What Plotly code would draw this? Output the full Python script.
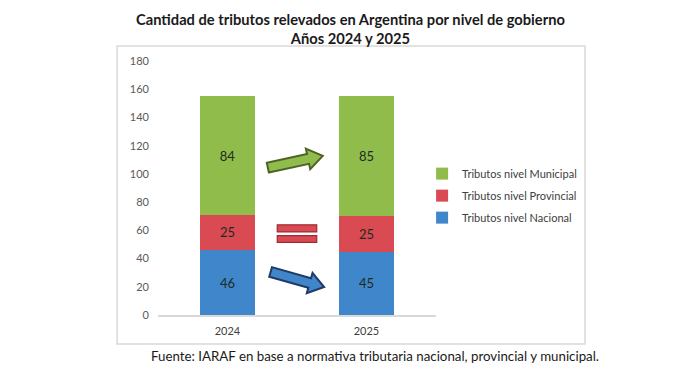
import math
import plotly.graph_objects as go

# ---- data ----
years = ["2024", "2025"]
nacional = [46, 45]
provincial = [25, 25]
municipal = [84, 85]
series_names = ["Tributos nivel Nacional", "Tributos nivel Provincial", "Tributos nivel Municipal"]
totals = [a + b + c for a, b, c in zip(nacional, provincial, municipal)]
title_lines = ["Cantidad de tributos relevados en Argentina por nivel de gobierno", "Años 2024 y 2025"]
source_text = "Fuente: IARAF en base a normativa tributaria nacional, provincial y municipal."

# ---- styles ----
FONT = "Lato"
C_GREEN, C_RED, C_BLUE = "#8FBC4B", "#D94A52", "#3F86CB"
W, H = 692, 379          # page body has an 8px margin
ML, MR, MT, MB = 150, 264, 53, 72
PX_X = (W - ML - MR) / 2.0      # pixels per category unit
PX_Y = (H - MT - MB) / 180.0    # pixels per value unit

fig = go.Figure()
for rank, (name, vals, col) in enumerate(zip(series_names, [nacional, provincial, municipal],
                                             [C_BLUE, C_RED, C_GREEN])):
    fig.add_trace(go.Bar(
        x=years, y=vals, name=name, marker=dict(color=col, line=dict(width=0)),
        width=0.4, text=vals, textposition="inside", insidetextanchor="middle",
        textfont=dict(family=FONT, size=13, color="#1E2A22"),
        legendgroup=name, legendrank=3 - rank,
    ))


def arrow(x0, y0, x1, y1, shaft=10, head=21, head_len=15):
    # geometry computed in pixel space, returned as an svg path in data coords
    p0 = (x0 * PX_X, -y0 * PX_Y)
    p1 = (x1 * PX_X, -y1 * PX_Y)
    dx, dy = p1[0] - p0[0], p1[1] - p0[1]
    L = math.hypot(dx, dy)
    ux, uy = dx / L, dy / L
    nx, ny = -uy, ux
    b = (p1[0] - ux * head_len, p1[1] - uy * head_len)
    pts = [
        (p0[0] + nx * shaft / 2, p0[1] + ny * shaft / 2),
        (b[0] + nx * shaft / 2, b[1] + ny * shaft / 2),
        (b[0] + nx * head / 2, b[1] + ny * head / 2),
        p1,
        (b[0] - nx * head / 2, b[1] - ny * head / 2),
        (b[0] - nx * shaft / 2, b[1] - ny * shaft / 2),
        (p0[0] - nx * shaft / 2, p0[1] - ny * shaft / 2),
    ]
    d = [(px / PX_X, -py / PX_Y) for px, py in pts]
    return "M " + " L ".join(f"{a:.4f},{c:.4f}" for a, c in d) + " Z"


shapes = [
    dict(type="rect", xref="paper", yref="paper", x0=-0.147, x1=1.536, y0=-0.114, y1=1.059,
         line=dict(color="#D9D9D9", width=1.5), fillcolor="rgba(0,0,0,0)", layer="below"),
    dict(type="path", xref="x", yref="y", path=arrow(0.29, 104.5, 0.685, 112.8),
         fillcolor=C_GREEN, line=dict(color="#4F6228", width=2)),
    dict(type="path", xref="x", yref="y", path=arrow(0.31, 30.5, 0.695, 19.8),
         fillcolor=C_BLUE, line=dict(color="#1F3A63", width=2)),
    dict(type="rect", xref="x", yref="y", x0=0.358, x1=0.642, y0=58.9, y1=63.9,
         fillcolor=C_RED, line=dict(color="#A02B35", width=1.2)),
    dict(type="rect", xref="x", yref="y", x0=0.358, x1=0.642, y0=51.4, y1=56.2,
         fillcolor=C_RED, line=dict(color="#A02B35", width=1.2)),
]

annotations = [
    dict(text="<b>" + title_lines[0] + "</b><br><b>" + title_lines[1] + "</b>",
         xref="paper", yref="paper", x=0.691, y=1.209, xanchor="center", yanchor="top",
         showarrow=False, font=dict(family=FONT, size=14.7, color="#1A1A1A")),
    dict(text=source_text, xref="paper", yref="paper", x=0.782, y=-0.161,
         xanchor="center", yanchor="middle", showarrow=False,
         font=dict(family=FONT, size=13.3, color="#1A1A1A")),
]
for yr, t in zip(years, totals):
    annotations.append(dict(text=f"Total; {t}", x=yr, y=t, xref="x", yref="y",
                            yanchor="bottom", yshift=6, showarrow=False,
                            font=dict(family=FONT, size=13, color="#333333")))

fig.update_layout(
    width=W, height=H, margin=dict(l=ML, r=MR, t=MT, b=MB),
    paper_bgcolor="white", plot_bgcolor="white",
    barmode="stack",
    font=dict(family=FONT, color="#595959"),
    xaxis=dict(type="category", range=[-0.5, 1.5], showgrid=False, showline=True,
               linecolor="#D9D9D9", linewidth=1.5, ticks="", ticklabelstandoff=5,
               tickfont=dict(family=FONT, size=11, color="#404040"), fixedrange=True),
    yaxis=dict(range=[0, 180], dtick=20, showgrid=False, zeroline=False, showline=False,
               ticks="", ticklabelstandoff=8,
               tickfont=dict(family=FONT, size=11, color="#595959"), fixedrange=True),
    legend=dict(x=0.95, xanchor="left", y=0.47, yanchor="middle",
                traceorder="grouped", tracegroupgap=3,
                font=dict(family=FONT, size=11, color="#404040"), itemwidth=30),
    shapes=shapes,
    annotations=annotations,
    showlegend=True,
)

fig.write_html("out.html")
